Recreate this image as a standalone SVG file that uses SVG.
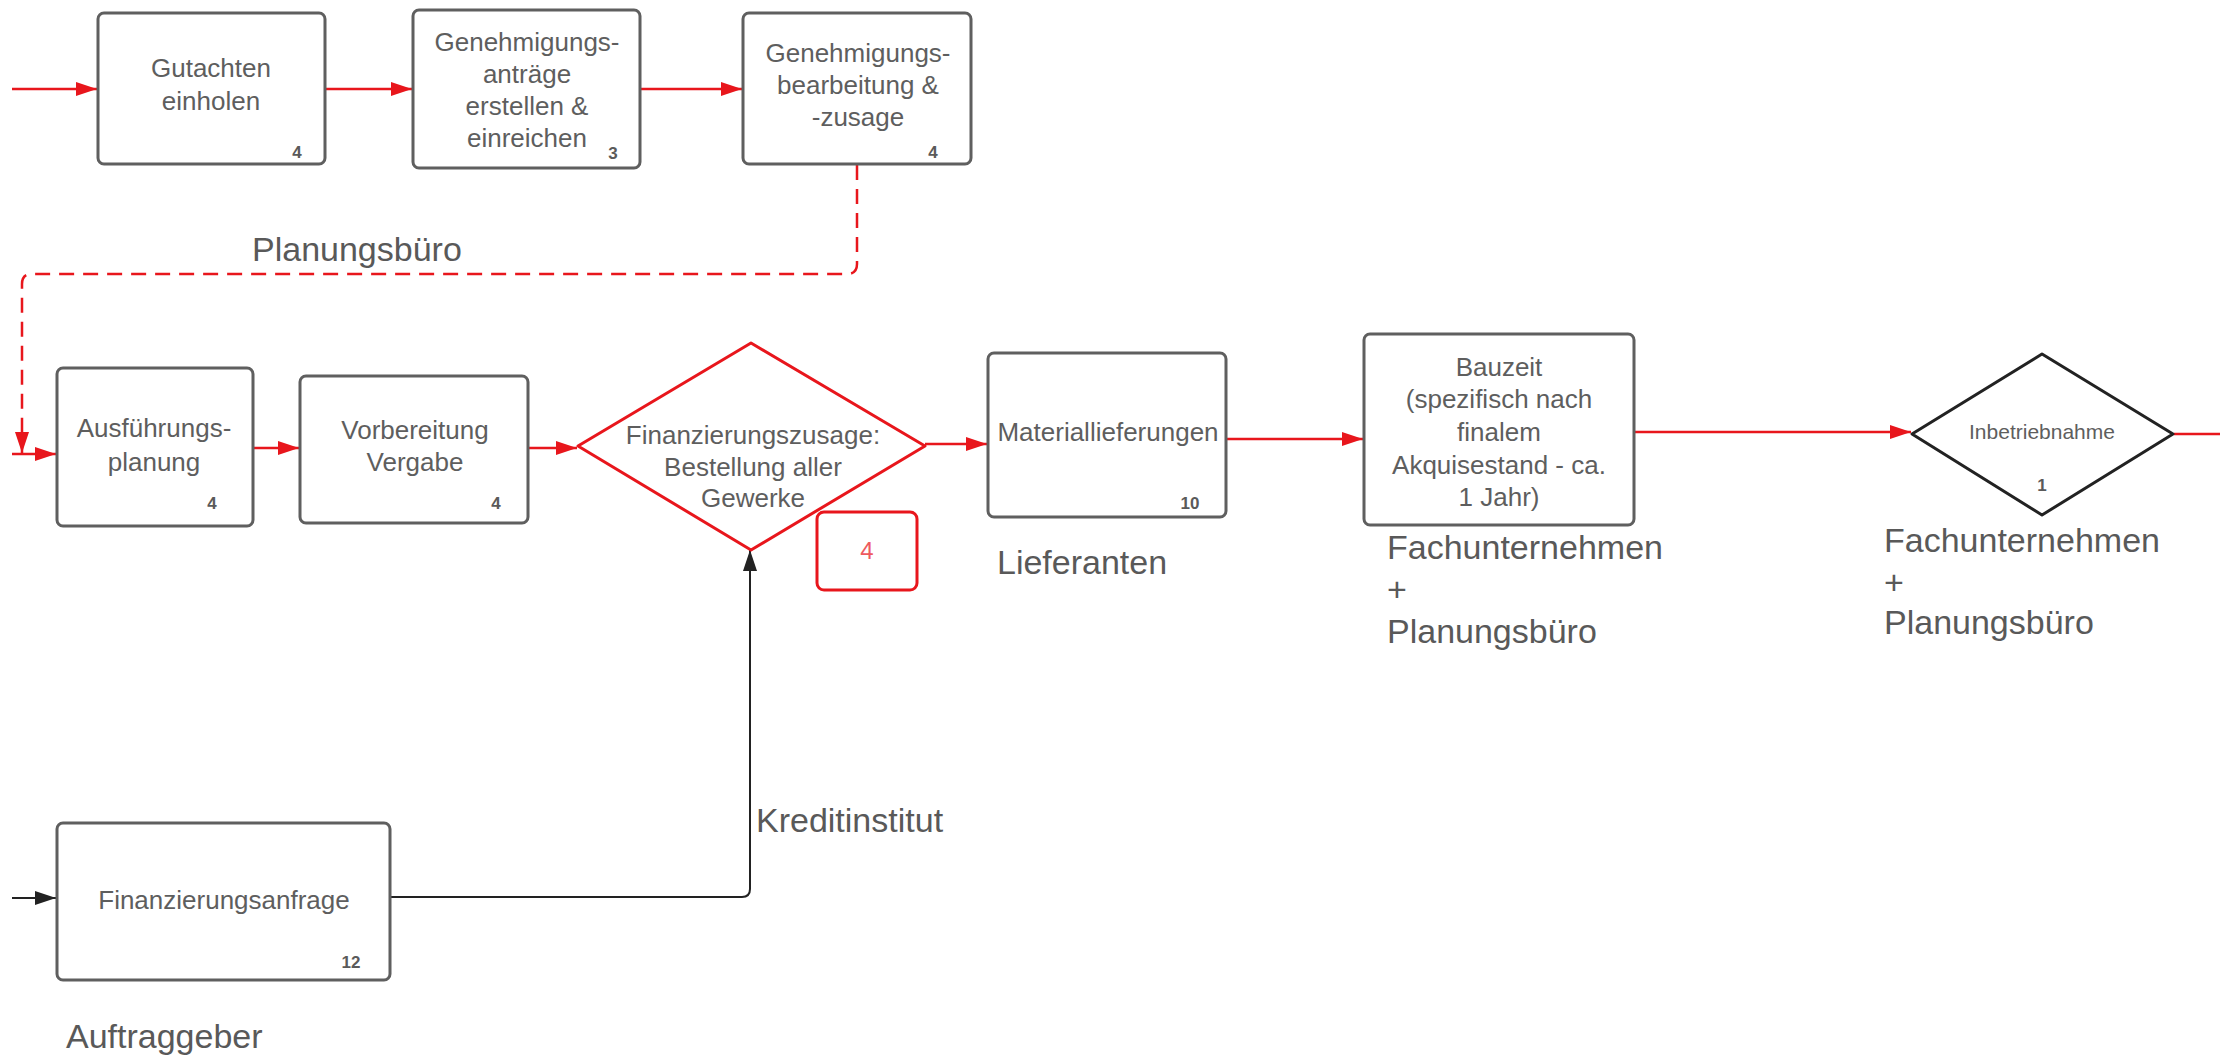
<svg xmlns="http://www.w3.org/2000/svg" width="2220" height="1055" viewBox="0 0 2220 1055">
<defs>
<style>
.box{fill:#fff;stroke:#5f5f5f;stroke-width:3}
.t{font-family:"Liberation Sans",Arial,sans-serif;font-size:26px;fill:#5e5e5e;text-anchor:middle}
.n{font-family:"Liberation Sans",Arial,sans-serif;font-size:17px;font-weight:bold;fill:#5a5a5a;text-anchor:middle}
.lb{font-family:"Liberation Sans",Arial,sans-serif;font-size:34px;fill:#595959}
.r{fill:none;stroke:#e8161c;stroke-width:2.5}
.k{fill:none;stroke:#222;stroke-width:2}
</style>
<marker id="ar" markerWidth="21" markerHeight="14" refX="21" refY="7" orient="auto" markerUnits="userSpaceOnUse"><path d="M0,0 L21,7 L0,14 z" fill="#e8161c"/></marker>
<marker id="ak" markerWidth="21" markerHeight="14" refX="21" refY="7" orient="auto" markerUnits="userSpaceOnUse"><path d="M0,0 L21,7 L0,14 z" fill="#222"/></marker>
</defs>
<rect width="2220" height="1055" fill="#fff"/>
<g id="connectors">
<path class="r" d="M12 89 H97" marker-end="url(#ar)"/>
<path class="r" d="M326 89 H412" marker-end="url(#ar)"/>
<path class="r" d="M640 89 H742" marker-end="url(#ar)"/>
<path class="r" d="M857 165 V264 Q857 274 847 274 H32 Q22 274 22 284 V453" stroke-dasharray="15 9" marker-end="url(#ar)"/>
<path class="r" d="M12 454 H56" marker-end="url(#ar)"/>
<path class="r" d="M253 448 H299" marker-end="url(#ar)"/>
<path class="r" d="M527 448 H577" marker-end="url(#ar)"/>
<path class="r" d="M925 444 H987" marker-end="url(#ar)"/>
<path class="r" d="M1226 439 H1363" marker-end="url(#ar)"/>
<path class="r" d="M1634 432 H1911" marker-end="url(#ar)"/>
<path class="r" d="M2174 434 H2220"/>
<path class="k" d="M12 898 H56" marker-end="url(#ak)"/>
<path class="k" d="M391 897 H742 Q750 897 750 889 V550" marker-end="url(#ak)"/>
</g>
<g id="gutachten">
<rect class="box" x="98" y="13" width="227" height="151" rx="6"/>
<text class="t" x="211" y="77">Gutachten</text>
<text class="t" x="211" y="110">einholen</text>
<text class="n" x="297" y="158">4</text>
</g>
<g id="antraege">
<rect class="box" x="413" y="10" width="227" height="158" rx="6"/>
<text class="t" x="527" y="51">Genehmigungs-</text>
<text class="t" x="527" y="83">anträge</text>
<text class="t" x="527" y="115">erstellen &amp;</text>
<text class="t" x="527" y="147">einreichen</text>
<text class="n" x="613" y="159">3</text>
</g>
<g id="bearbeitung">
<rect class="box" x="743" y="13" width="228" height="151" rx="6"/>
<text class="t" x="858" y="62">Genehmigungs-</text>
<text class="t" x="858" y="94">bearbeitung &amp;</text>
<text class="t" x="858" y="126">-zusage</text>
<text class="n" x="933" y="158">4</text>
</g>
<g id="ausfuehrung">
<rect class="box" x="57" y="368" width="196" height="158" rx="6"/>
<text class="t" x="154" y="437">Ausführungs-</text>
<text class="t" x="154" y="471">planung</text>
<text class="n" x="212" y="509">4</text>
</g>
<g id="vergabe">
<rect class="box" x="300" y="376" width="228" height="147" rx="6"/>
<text class="t" x="415" y="439">Vorbereitung</text>
<text class="t" x="415" y="471">Vergabe</text>
<text class="n" x="496" y="509">4</text>
</g>
<g id="finanzierungszusage">
<path d="M751 343 L925 446 L751 550 L578 446 Z" fill="#fff" stroke="#e8161c" stroke-width="3" stroke-linejoin="round"/>
<text class="t" x="753" y="444">Finanzierungszusage:</text>
<text class="t" x="753" y="476">Bestellung aller</text>
<text class="t" x="753" y="507">Gewerke</text>
</g>
<g id="dauer4">
<rect x="817" y="512" width="100" height="78" rx="7" fill="#fff" stroke="#e8161c" stroke-width="3"/>
<text x="867" y="559" font-family="Liberation Sans, Arial, sans-serif" font-size="24" fill="#ee5a5e" text-anchor="middle">4</text>
</g>
<g id="material">
<rect class="box" x="988" y="353" width="238" height="164" rx="6"/>
<text class="t" x="1108" y="441">Materiallieferungen</text>
<text class="n" x="1190" y="509">10</text>
</g>
<g id="bauzeit">
<rect class="box" x="1364" y="334" width="270" height="191" rx="6"/>
<text class="t" x="1499" y="376">Bauzeit</text>
<text class="t" x="1499" y="408">(spezifisch nach</text>
<text class="t" x="1499" y="441">finalem</text>
<text class="t" x="1499" y="474">Akquisestand - ca.</text>
<text class="t" x="1499" y="506">1 Jahr)</text>
</g>
<g id="inbetriebnahme">
<path d="M2042 354 L2173 434 L2042 515 L1912 434 Z" fill="#fff" stroke="#222" stroke-width="3" stroke-linejoin="round"/>
<text class="t" x="2042" y="439" style="font-size:21px">Inbetriebnahme</text>
<text class="n" x="2042" y="491">1</text>
</g>
<g id="finanzierungsanfrage">
<rect class="box" x="57" y="823" width="333" height="157" rx="6"/>
<text class="t" x="224" y="909">Finanzierungsanfrage</text>
<text class="n" x="351" y="968">12</text>
</g>
<g id="labels">
<text class="lb" x="252" y="261">Planungsbüro</text>
<text class="lb" x="997" y="574">Lieferanten</text>
<text class="lb" x="1387" y="559">Fachunternehmen</text>
<text class="lb" x="1387" y="601">+</text>
<text class="lb" x="1387" y="643">Planungsbüro</text>
<text class="lb" x="1884" y="552">Fachunternehmen</text>
<text class="lb" x="1884" y="594">+</text>
<text class="lb" x="1884" y="634">Planungsbüro</text>
<text class="lb" x="756" y="832">Kreditinstitut</text>
<text class="lb" x="66" y="1048">Auftraggeber</text>
</g>
</svg>
